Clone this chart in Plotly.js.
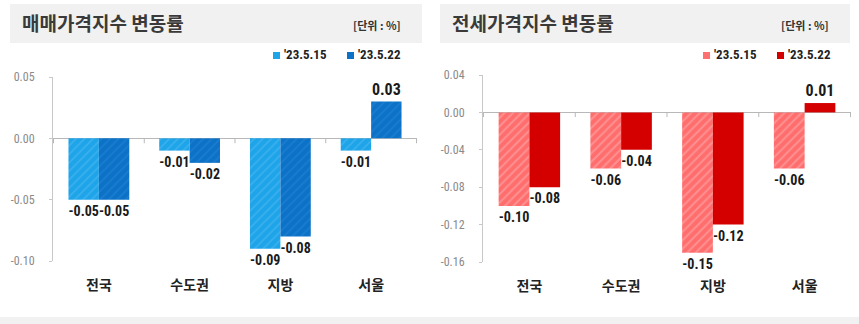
<!DOCTYPE html>
<html><head><meta charset="utf-8">
<script src="https://cdn.plot.ly/plotly-3.0.1.min.js"></script>
<style>html,body{margin:0;padding:0;background:#fff}#c{width:859px;height:324px}</style>
</head><body><div id="c"></div>
<script>
const categories = ['전국', '수도권', '지방', '서울'];
const seriesLabels = ["'23.5.15", "'23.5.22"];
const sale0515 = [-0.05, -0.01, -0.09, -0.01];
const sale0522 = [-0.05, -0.02, -0.08, 0.03];
const jeonse0515 = [-0.10, -0.06, -0.15, -0.06];
const jeonse0522 = [-0.08, -0.04, -0.12, 0.01];
const saleTicks = [0.05, 0.00, -0.05, -0.10];
const jeonseTicks = [0.04, 0.00, -0.04, -0.08, -0.12, -0.16];
const titles = ['매매가격지수 변동률', '전세가격지수 변동률'];
const unitText = '[단위 : %]';
const saleColors = ['#1ea4e9', '#0c72c8'];
const jeonseColors = ['#ff7070', '#d40000'];

const narrow = 'Liberation Sans Narrow, Roboto Condensed, Arial Narrow, sans-serif';
const lblFont = {family: narrow, size: 16, color: '#1a1a1a', weight: 'bold'};
function bar(y, name, xa, ya, color, pattern) {
  const m = {color: color, line: {width: 0}};
  if (pattern) m.pattern = pattern;
  return {type: 'bar', x: categories, y: y, name: name, xaxis: xa, yaxis: ya,
    marker: m, text: y.map(v => v.toFixed(2)), textposition: 'outside', cliponaxis: false,
    textfont: lblFont, hoverinfo: 'skip'};
}
const data = [
  bar(sale0515, seriesLabels[0], 'x', 'y', saleColors[0], {shape: '/', fgcolor: '#3ab0ee', bgcolor: saleColors[0], size: 6, solidity: 0.3}),
  bar(sale0522, seriesLabels[1], 'x', 'y', saleColors[1], {shape: '/', fgcolor: '#1a7ccd', bgcolor: saleColors[1], size: 6, solidity: 0.3}),
  bar(jeonse0515, seriesLabels[0], 'x2', 'y2', jeonseColors[0], {shape: '/', fgcolor: '#ff9090', bgcolor: '#ff6d6d', size: 6, solidity: 0.35}),
  bar(jeonse0522, seriesLabels[1], 'x2', 'y2', jeonseColors[1], null)
];

function yax(domain, anchor, ticks, range) {
  return {domain: domain, anchor: anchor, range: range, tickvals: ticks, ticktext: ticks.map(v => v.toFixed(2)),
    showgrid: false, zeroline: true, zerolinecolor: '#b8b8b8', zerolinewidth: 1.5,
    showline: true, linecolor: '#c8c8c8', linewidth: 1, ticks: 'outside', ticklen: 3, tickcolor: '#c8c8c8',
    ticklabelstandoff: 12,
    tickfont: {family: narrow, size: 12, color: '#8a8a8a'}, fixedrange: true};
}
function xax(domain, anchor) {
  return {domain: domain, anchor: anchor, showline: false, ticks: '', showgrid: false, zeroline: false,
    ticklabelstandoff: 14,
    tickfont: {family: 'Noto Sans CJK KR, sans-serif', size: 14, color: '#222', weight: 'bold'}, fixedrange: true};
}

const shapes = [];
const annotations = [];
[[10, 422], [440, 850]].forEach((r, i) => {
  shapes.push({type: 'rect', xref: 'paper', yref: 'paper', x0: r[0] / 859, x1: r[1] / 859, y0: 1 - 43 / 324, y1: 1 - 4 / 324,
    fillcolor: '#f1f1f1', line: {width: 0}, layer: 'below'});
  annotations.push({xref: 'paper', yref: 'paper', x: (r[0] + 10) / 859, y: 1 - 23 / 324, xanchor: 'left', yanchor: 'middle',
    text: '<b>' + titles[i] + '</b>', showarrow: false, font: {family: 'Noto Sans CJK KR, sans-serif', size: 19, color: '#3a3a3a'}});
  annotations.push({xref: 'paper', yref: 'paper', x: (r[1] - 19) / 859, y: 1 - 25 / 324, xanchor: 'right', yanchor: 'middle',
    text: '<b>' + unitText + '</b>', showarrow: false, font: {family: 'Noto Sans CJK KR, sans-serif', size: 11, color: '#333'}});
});
shapes.push({type: 'rect', xref: 'paper', yref: 'paper', x0: 0, x1: 1, y0: 0, y1: 7 / 324, fillcolor: '#f1f1f1', line: {width: 0}, layer: 'below'});
[['x', 'y', 0.004], ['x2', 'y2', 0.005]].forEach(a => {
  for (let i = 0; i <= categories.length; i++) {
    shapes.push({type: 'line', xref: a[0], yref: a[1], x0: i - 0.5, x1: i - 0.5, y0: 0, y1: -a[2],
      line: {color: '#b8b8b8', width: 1}});
  }
});
const legFont = {family: narrow, size: 13, color: '#222', weight: 'bold'};
[[273, saleColors], [703, jeonseColors]].forEach(([x0, cols]) => {
  seriesLabels.forEach((lab, j) => {
    const mx = x0 + j * 74;
    shapes.push({type: 'rect', xref: 'paper', yref: 'paper', x0: mx / 859, x1: (mx + 7) / 859,
      y0: 1 - 59 / 324, y1: 1 - 52 / 324, fillcolor: cols[j], line: {width: 0}});
    annotations.push({xref: 'paper', yref: 'paper', x: (mx + 9) / 859, y: 1 - 55 / 324, xanchor: 'left', yanchor: 'middle',
      text: lab, showarrow: false, font: legFont});
  });
});

const layout = {
  width: 859, height: 324, margin: {l: 0, r: 0, t: 0, b: 0}, paper_bgcolor: '#fff', plot_bgcolor: 'rgba(0,0,0,0)',
  barmode: 'group', bargap: 0.33, bargroupgap: 0, showlegend: false,
  xaxis: xax([53 / 859, 417 / 859], 'y'),
  yaxis: yax([1 - 261 / 324, 1 - 77 / 324], 'x', saleTicks, [-0.10, 0.05]),
  xaxis2: xax([483 / 859, 851 / 859], 'y2'),
  yaxis2: yax([1 - 262 / 324, 1 - 75 / 324], 'x2', jeonseTicks, [-0.16, 0.04]),
  shapes: shapes, annotations: annotations
};
Plotly.newPlot('c', data, layout, {staticPlot: true, displayModeBar: false});
</script></body></html>
